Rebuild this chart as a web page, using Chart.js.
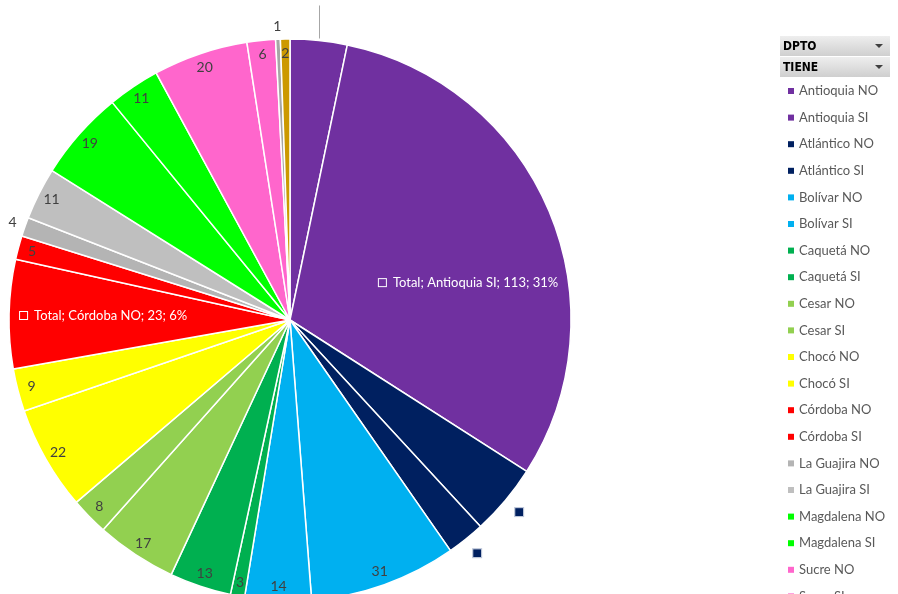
<!DOCTYPE html>
<html>
<head>
<meta charset="utf-8">
<script src="https://cdn.jsdelivr.net/npm/chart.js@4.4.0/dist/chart.umd.min.js"></script>
<style>
  html, body { margin: 0; padding: 0; background: #fff; overflow: hidden; }
  #wrap { width: 898px; height: 594px; overflow: hidden; }
</style>
</head>
<body>
<div id="wrap"><canvas id="grafico" width="898" height="640"></canvas></div>
<script>
// Datos
const categorias = [
  "Antioquia NO", "Antioquia SI", "Atlántico NO", "Atlántico SI",
  "Bolívar NO", "Bolívar SI", "Caquetá NO", "Caquetá SI",
  "Cesar NO", "Cesar SI", "Chocó NO", "Chocó SI",
  "Córdoba NO", "Córdoba SI", "La Guajira NO", "La Guajira SI",
  "Magdalena NO", "Magdalena SI", "Sucre NO", "Sucre SI",
  "Tolima NO", "Valle NO"
];
const valores = [12, 113, 15, 8, 31, 14, 3, 13, 17, 8, 22, 9, 23, 5, 4, 11, 19, 11, 20, 6, 1, 2];
const encabezados = ["DPTO", "TIENE"];

const colores = [
  "#7030A0", "#7030A0", "#002060", "#002060",
  "#00B0F0", "#00B0F0", "#00B050", "#00B050",
  "#92D050", "#92D050", "#FFFF00", "#FFFF00",
  "#FF0000", "#FF0000", "#B4B4B4", "#BFBFBF",
  "#00FF00", "#00FF00", "#FF66CC", "#FF66CC",
  "#A6A6A6", "#CC9900"
];

// Cómo se muestra la etiqueta de cada porción
const sinEtiqueta = ["Antioquia NO"];
const soloClave = ["Atlántico NO", "Atlántico SI"];
const afuera = ["La Guajira NO", "Tolima NO"];
const completas = {
  "Antioquia SI": { ang: 78.3, dist: 0.647 },
  "Córdoba NO": { dist: 0.665 }
};

const etiquetas = {
  id: "etiquetas",
  afterDatasetsDraw(chart) {
    const ctx = chart.ctx;
    const meta = chart.getDatasetMeta(0);
    const total = valores.reduce((a, b) => a + b, 0);
    ctx.save();
    ctx.textBaseline = "middle";
    ctx.textAlign = "center";
    meta.data.forEach((arc, i) => {
      const p = arc.getProps(["x", "y", "startAngle", "endAngle", "outerRadius"], true);
      const mid = (p.startAngle + p.endAngle) / 2;
      const r = p.outerRadius;
      const cat = categorias[i];
      const pt = (d, a = mid) => [p.x + Math.cos(a) * d, p.y + Math.sin(a) * d];

      if (sinEtiqueta.includes(cat)) {
        // línea guía hacia una etiqueta fuera del área
        const [lx, ly] = pt(r + 2);
        ctx.strokeStyle = "#A6A6A6";
        ctx.lineWidth = 1;
        ctx.beginPath();
        ctx.moveTo(Math.round(lx) + 0.5, ly);
        ctx.lineTo(Math.round(lx) + 0.5, ly - 33);
        ctx.stroke();
        return;
      }
      if (soloClave.includes(cat)) {
        const [kx, ky] = pt(r + 18);
        ctx.fillStyle = colores[i];
        ctx.strokeStyle = "#B8C2D6";
        ctx.lineWidth = 1;
        ctx.fillRect(kx - 4, ky - 4, 8, 8);
        ctx.strokeRect(kx - 4.5, ky - 4.5, 9, 9);
        return;
      }
      if (completas[cat]) {
        const c = completas[cat];
        const a = c.ang !== undefined ? (c.ang - 90) * Math.PI / 180 : mid;
        const [cx, cy] = pt(r * c.dist, a);
        const pct = Math.round(valores[i] / total * 100);
        const txt = "Total; " + cat + "; " + valores[i] + "; " + pct + "%";
        ctx.font = "13px Lato";
        const w = ctx.measureText(txt).width + 15;
        const x0 = cx - w / 2;
        ctx.fillStyle = colores[i];
        ctx.strokeStyle = "#fff";
        ctx.lineWidth = 1;
        ctx.fillRect(x0, cy - 5, 8, 8);
        ctx.strokeRect(x0 + 0.5, cy - 4.5, 8, 8);
        ctx.fillStyle = "#fff";
        ctx.textAlign = "left";
        ctx.fillText(txt, x0 + 15, cy);
        ctx.textAlign = "center";
        return;
      }
      const d = afuera.includes(cat) ? r + 13 : r - 14;
      const [tx, ty] = pt(d);
      ctx.font = "14px Lato";
      ctx.fillStyle = "#404040";
      ctx.fillText(String(valores[i]), tx, ty);
    });
    ctx.restore();
  }
};

const leyenda = {
  id: "leyenda",
  afterDraw(chart) {
    const ctx = chart.ctx;
    const x0 = 780, w = 110;
    ctx.save();
    encabezados.forEach((t, i) => {
      const y = 36 + i * 21;
      const g = ctx.createLinearGradient(0, y, 0, y + 20);
      g.addColorStop(0, "#EEEEEE");
      g.addColorStop(1, "#CFCFCF");
      ctx.fillStyle = g;
      ctx.fillRect(x0, y, w, 20);
      ctx.fillStyle = "#000";
      ctx.font = "bold 12px 'Liberation Sans Narrow', 'DejaVu Sans Condensed', sans-serif";
      ctx.textBaseline = "middle";
      ctx.textAlign = "left";
      ctx.fillText(t, x0 + 3, y + 10.5);
      ctx.fillStyle = "#404040";
      ctx.beginPath();
      ctx.moveTo(x0 + w - 15, y + 8);
      ctx.lineTo(x0 + w - 7, y + 8);
      ctx.lineTo(x0 + w - 11, y + 12);
      ctx.closePath();
      ctx.fill();
    });
    ctx.font = "13px Lato";
    ctx.textBaseline = "middle";
    categorias.forEach((c, i) => {
      const y = 91 + i * 26.6;
      ctx.fillStyle = colores[i];
      ctx.fillRect(788, y - 3, 6, 6);
      ctx.fillStyle = "#595959";
      ctx.fillText(c, 799, y);
    });
    ctx.restore();
  }
};

new Chart(document.getElementById("grafico"), {
  type: "pie",
  data: {
    labels: categorias,
    datasets: [{
      data: valores,
      backgroundColor: colores,
      borderColor: "#FFFFFF",
      borderWidth: 1.5
    }]
  },
  options: {
    responsive: false,
    animation: false,
    radius: 281,
    layout: { padding: { left: 9, top: 39, right: 327, bottom: 39 } },
    plugins: {
      legend: { display: false },
      tooltip: { enabled: false }
    }
  },
  plugins: [etiquetas, leyenda]
});
</script>
</body>
</html>
